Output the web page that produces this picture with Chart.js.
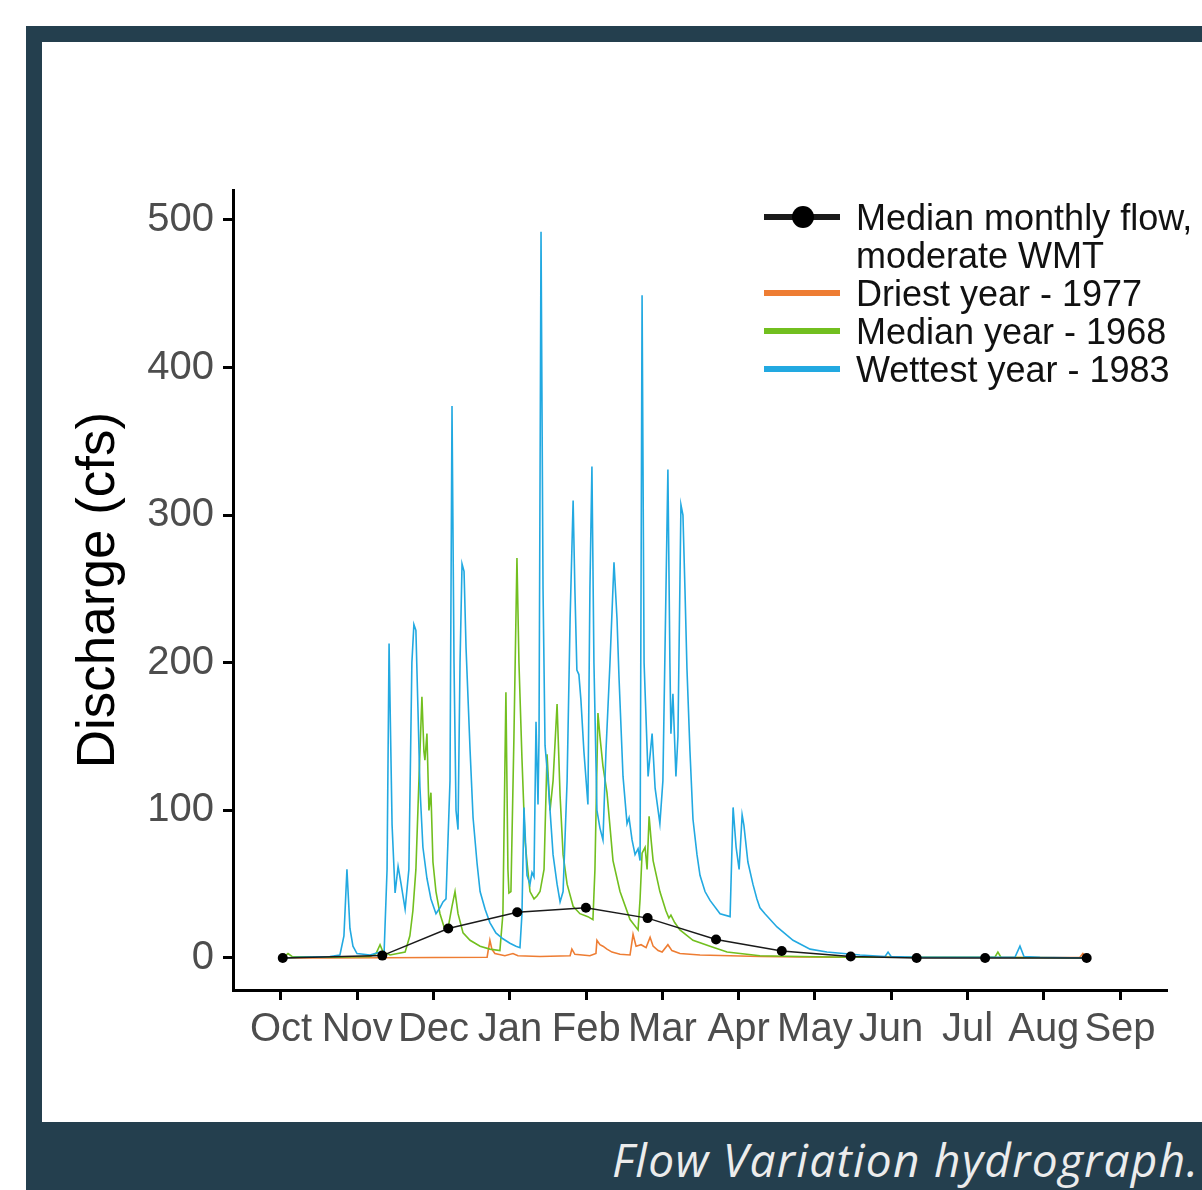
<!DOCTYPE html>
<html>
<head>
<meta charset="utf-8">
<title>Flow Variation hydrograph</title>
<script src="https://cdn.jsdelivr.net/npm/chart.js@4.4.1/dist/chart.umd.min.js"></script>
<style>
    body { margin: 0; width: 1202px; height: 1190px; background: #fff; position: relative; overflow: hidden; font-family: "Liberation Sans", Arial, sans-serif; }
    #moldura { position: absolute; left: 26px; top: 26px; right: 0; bottom: 0; background: #243f4e; }
    #painel { position: absolute; left: 42px; top: 42px; width: 1160px; height: 1080px; background: #fff; }
    #legenda { position: absolute; left: 764px; top: 199px; }
    .item { position: relative; height: 38px; line-height: 38px; font-size: 36px; color: #111; white-space: nowrap; }
    .traco { position: absolute; left: 0; top: 15px; width: 76px; height: 6px; }
    .ponto { position: absolute; left: 28px; top: 7px; width: 22px; height: 22px; border-radius: 50%; background: #000; }
    .texto { position: absolute; left: 92px; top: 0; }
    #rodape { position: absolute; left: 612px; top: 1136px; font-family: "Open Sans", sans-serif; font-style: italic; font-size: 46px; line-height: 46px; letter-spacing: 1.3px; color: #ececec; white-space: nowrap; }
</style>
</head>
<body>
<div id="moldura"></div>
<div id="painel"><canvas id="grafico"></canvas></div>
<div id="legenda"></div>
<div id="rodape">Flow Variation hydrograph.</div>

<script>
// x = day of the water year (Oct 1 = 0), y = discharge in cfs
const monthLabels = ['Oct', 'Nov', 'Dec', 'Jan', 'Feb', 'Mar', 'Apr', 'May', 'Jun', 'Jul', 'Aug', 'Sep'];
const monthTicks = [0, 30.4, 60.8, 91.3, 121.7, 152.1, 182.5, 212.9, 243.3, 273.8, 304.2, 334.6];
const flowTicks = [0, 100, 200, 300, 400, 500];

const medianMonthly = [
    [0.7, 0], [40.4, 1.6], [66.7, 20], [94.2, 31], [121.6, 34], [146.2, 27],
    [173.5, 12.5], [199.7, 4.7], [227.2, 1], [253.5, 0], [280.8, 0], [321.3, 0]
];

const driest1977 = [
    [0.8, 0], [19.5, 0], [82.2, 0.5], [83.3, 12], [84.1, 6], [85.3, 3], [89.3, 1.5], [92.5, 3],
    [94.5, 1.5], [103.3, 1], [115.3, 1.5], [116.0, 6], [117.2, 2.5], [123.2, 1.5], [125.6, 3],
    [126.0, 12], [127.2, 9], [128.4, 8], [130.0, 6], [132.0, 4], [135.2, 2.5], [139.2, 2],
    [140.4, 16], [141.6, 8], [143.6, 9], [145.6, 7], [147.2, 14], [148.4, 8], [150.4, 5],
    [152.0, 4], [154.3, 9], [155.9, 5], [159.1, 3], [167.1, 2], [179.1, 1.5], [191.0, 1],
    [207.0, 0.7], [226.9, 0.5], [286.7, 0.3], [318.6, 0.5], [319.8, 3], [321.4, 0]
];

const median1968 = [
    [0.8, 0], [2.8, 3], [4.4, 1], [19.5, 0.5], [35.5, 1], [37.9, 3], [39.5, 9], [40.7, 4],
    [43.5, 2], [49.5, 4], [51.4, 15], [52.6, 32], [53.8, 60], [55.0, 120], [56.2, 177],
    [57.0, 140], [57.4, 134], [58.2, 152], [59.0, 100], [59.8, 112], [60.6, 65], [61.8, 45],
    [63.4, 30], [65.4, 19], [66.6, 20], [68.2, 35], [69.4, 45], [70.6, 30], [72.6, 17],
    [75.4, 12], [79.4, 8], [83.3, 6], [87.3, 5], [88.5, 30], [89.7, 180], [90.5, 60],
    [90.9, 44], [91.7, 45], [92.9, 150], [94.1, 271], [94.9, 200], [96.1, 135], [97.3, 80],
    [98.1, 65], [99.3, 45], [100.9, 40], [102.1, 42], [103.3, 45], [104.9, 60], [106.1, 138],
    [107.3, 100], [108.5, 120], [110.1, 172], [111.3, 110], [112.5, 70], [114.1, 50],
    [116.5, 35], [119.2, 30], [122.4, 28], [124.4, 26], [125.2, 60], [126.4, 166], [127.2, 150],
    [128.4, 130], [130.0, 112], [132.4, 66], [135.2, 45], [139.2, 26], [142.4, 19], [143.2, 40],
    [144.0, 71], [145.2, 75], [146.0, 60], [146.8, 96], [147.6, 80], [148.4, 66], [151.1, 45],
    [153.5, 32], [154.7, 27], [155.5, 29], [157.0, 24], [159.1, 19], [164.3, 12], [171.1, 8],
    [177.9, 4], [191.0, 1.5], [207.0, 1], [226.9, 0.5], [284.7, 0.5], [285.9, 4], [287.1, 0.5],
    [321.4, 0]
];

const wettest1983 = [
    [0.8, 0], [7.6, 0.5], [19.5, 1], [23.5, 2], [25.1, 15], [26.3, 60], [27.5, 20], [28.7, 8],
    [30.3, 3], [35.5, 2], [39.5, 4], [41.1, 3], [42.3, 60], [43.1, 213], [44.3, 90], [45.5, 44],
    [46.7, 62], [47.9, 50], [49.5, 33], [51.0, 60], [52.2, 200], [53.0, 226], [53.8, 222],
    [54.6, 170], [55.4, 116], [56.6, 75], [58.2, 54], [59.8, 40], [61.8, 30], [63.4, 34],
    [64.6, 38], [65.8, 40], [67.4, 120], [68.2, 374], [69.0, 200], [69.8, 100], [70.6, 87],
    [71.4, 200], [72.2, 267], [73.0, 262], [73.8, 210], [75.4, 141], [76.6, 95], [78.2, 64],
    [79.4, 45], [81.4, 33], [83.3, 24], [85.7, 17], [88.5, 13], [91.3, 10], [93.7, 8],
    [95.3, 7], [96.1, 30], [96.9, 102], [98.1, 56], [99.3, 50], [100.1, 58], [100.9, 55],
    [101.7, 160], [102.5, 104], [102.9, 150], [103.7, 492], [104.5, 250], [105.3, 144],
    [106.5, 120], [107.7, 90], [108.5, 70], [110.1, 50], [111.3, 38], [112.5, 45], [114.1, 120],
    [115.3, 230], [116.5, 310], [117.2, 250], [118.0, 195], [118.8, 192], [119.6, 175],
    [120.8, 140], [122.4, 104], [123.2, 250], [124.0, 333], [124.8, 200], [126.0, 100],
    [127.2, 88], [128.4, 80], [129.6, 140], [131.2, 200], [132.8, 268], [134.0, 230],
    [134.8, 190], [136.4, 123], [138.0, 91], [138.8, 95], [140.0, 80], [141.2, 70], [142.4, 74],
    [143.2, 66], [144.0, 449], [144.8, 200], [146.4, 123], [148.0, 152], [149.2, 115],
    [151.1, 91], [152.3, 120], [154.3, 331], [155.1, 200], [155.5, 152], [156.3, 179],
    [157.5, 123], [158.3, 150], [159.5, 307], [160.3, 300], [161.1, 250], [161.9, 196],
    [163.1, 140], [164.3, 94], [165.9, 70], [167.1, 56], [169.1, 45], [171.1, 39], [175.1, 30],
    [179.1, 28], [180.3, 102], [181.5, 75], [182.7, 60], [183.9, 97], [184.6, 90], [186.2, 65],
    [188.2, 50], [189.8, 40], [191.0, 34], [193.0, 30], [197.8, 21], [204.2, 12], [211.0, 6],
    [217.7, 4], [230.9, 2], [240.9, 1], [242.1, 4], [243.3, 1], [254.8, 0.5], [292.7, 0.5],
    [294.7, 8], [296.3, 1], [302.7, 0.5], [321.4, 0]
];

const fonteEixo = { family: '"Liberation Sans", Arial, sans-serif', size: 40 };

function serie(pares) {
    return pares.map(p => ({ x: p[0], y: p[1] }));
}

function linhaDiaria(label, pares, cor, ordem) {
    return {
        label: label,
        data: serie(pares),
        borderColor: cor,
        backgroundColor: cor,
        borderWidth: 1.6,
        pointRadius: 0,
        tension: 0,
        order: ordem
    };
}

const grafico = new Chart(document.getElementById('grafico'), {
    type: 'line',
    data: {
        datasets: [
            {
                label: ['Median monthly flow,', 'moderate WMT'],
                data: serie(medianMonthly),
                borderColor: '#1a1a1a',
                backgroundColor: '#000',
                borderWidth: 1.5,
                pointRadius: 5,
                pointBackgroundColor: '#000',
                pointBorderWidth: 0,
                tension: 0,
                order: 0
            },
            linhaDiaria('Driest year - 1977', driest1977, '#EE7D33', 3),
            linhaDiaria('Median year - 1968', median1968, '#72BF1F', 2),
            linhaDiaria('Wettest year - 1983', wettest1983, '#22A9E1', 1)
        ]
    },
    options: {
        responsive: true,
        maintainAspectRatio: false,
        animation: false,
        layout: { padding: { top: 148, right: 36, bottom: 0, left: 0 } },
        plugins: { legend: { display: false }, tooltip: { enabled: false } },
        scales: {
            x: {
                type: 'linear',
                min: -19.14,
                max: 352.94,
                afterBuildTicks: s => { s.ticks = monthTicks.map(v => ({ value: v })); },
                afterFit: s => { s.height = 132; },
                ticks: {
                    autoSkip: false,
                    maxRotation: 0,
                    padding: 6,
                    color: '#4d4d4d',
                    font: fonteEixo,
                    callback: (v, i) => monthLabels[i]
                },
                grid: { drawOnChartArea: false, color: '#000', lineWidth: 3, tickLength: 10 },
                border: { color: '#000', width: 3 }
            },
            y: {
                min: -21.7,
                max: 520.3,
                afterBuildTicks: s => { s.ticks = flowTicks.map(v => ({ value: v })); },
                afterFit: s => { s.width = 191; },
                ticks: { padding: 9, color: '#4d4d4d', font: fonteEixo },
                title: {
                    display: true,
                    text: 'Discharge (cfs)',
                    color: '#000',
                    font: { family: '"Liberation Sans", Arial, sans-serif', size: 53 },
                    padding: { top: 26, bottom: 0 }
                },
                grid: { drawOnChartArea: false, color: '#000', lineWidth: 3, tickLength: 10 },
                border: { color: '#000', width: 3 }
            }
        }
    }
});

document.getElementById('legenda').innerHTML = grafico.data.datasets.map(ds => {
    const linhas = [].concat(ds.label);
    return linhas.map((txt, i) => `
        <div class="item">
            ${i === 0 ? `<span class="traco" style="background:${ds.borderColor}"></span>` : ''}
            ${i === 0 && ds.pointRadius ? '<span class="ponto"></span>' : ''}
            <span class="texto">${txt}</span>
        </div>`).join('');
}).join('');
</script>
</body>
</html>
